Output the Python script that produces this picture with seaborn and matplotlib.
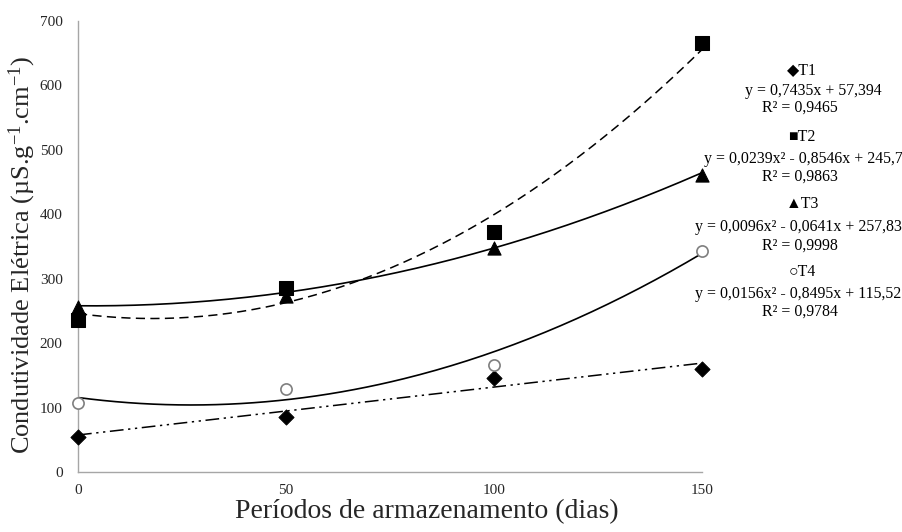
import numpy as np
import pandas as pd
import matplotlib.pyplot as plt
import seaborn as sns

# dados
periodos = [0, 50, 100, 150]
t1 = [54, 85, 146, 159]
t2 = [235, 285, 372, 665]
t3 = [256, 273, 347, 460]
t4 = [107, 128, 166, 343]

# coeficientes das linhas de tendência impressos no gráfico
coef_t1 = [0.7435, 57.394]
coef_t2 = [0.0239, -0.8546, 245.7]
coef_t3 = [0.0096, -0.0641, 257.83]
coef_t4 = [0.0156, -0.8495, 115.52]

nomes = ["\u25c6T1", "\u25a0T2", "\u25b2T3", "\u25cbT4"]
equacoes = ["y = 0,7435x + 57,394",
            "y = 0,0239x\u00b2 - 0,8546x + 245,7",
            "y = 0,0096x\u00b2 - 0,0641x + 257,83",
            "y = 0,0156x\u00b2 - 0,8495x + 115,52"]
r2 = ["R\u00b2 = 0,9465", "R\u00b2 = 0,9863", "R\u00b2 = 0,9998", "R\u00b2 = 0,9784"]

sns.set_theme(style="white")
plt.rcParams['font.family'] = ['Liberation Serif', 'DejaVu Sans']
plt.rcParams['mathtext.fontset'] = 'custom'
plt.rcParams['mathtext.rm'] = 'Liberation Serif'
plt.rcParams['mathtext.it'] = 'Liberation Serif:italic'

fig = plt.figure(figsize=(9.02, 5.32), dpi=100)
ax = fig.add_axes([78 / 902, 1 - 472 / 532, (702 - 78) / 902, (472 - 20.7) / 532])

df = pd.DataFrame({'x': periodos, 'T1': t1, 'T2': t2, 'T3': t3, 'T4': t4})
xs = np.linspace(0, 150, 200)

# linhas de tendência
sns.lineplot(x=xs, y=np.polyval(coef_t1, xs), ax=ax, color='black', lw=1.1)
ax.lines[-1].set_dashes([9, 3, 1.5, 3, 1.5, 3])
sns.lineplot(x=xs, y=np.polyval(coef_t2, xs), ax=ax, color='black', lw=1.1)
ax.lines[-1].set_dashes([6, 3.5])
sns.lineplot(x=xs, y=np.polyval(coef_t3, xs), ax=ax, color='black', lw=1.2)
sns.lineplot(x=xs, y=np.polyval(coef_t4, xs), ax=ax, color='black', lw=1.2)

# pontos
sns.scatterplot(data=df, x='x', y='T1', ax=ax, marker='D', s=60, color='black',
                edgecolor='black', zorder=5, clip_on=False)
sns.scatterplot(data=df, x='x', y='T2', ax=ax, marker='s', s=90, color='black',
                edgecolor='black', zorder=5, clip_on=False)
sns.scatterplot(data=df, x='x', y='T3', ax=ax, marker='^', s=90, color='black',
                edgecolor='black', zorder=5, clip_on=False)
sns.scatterplot(data=df, x='x', y='T4', ax=ax, marker='o', s=65, color='white',
                edgecolor='#7f7f7f', linewidth=1.2, zorder=5, clip_on=False)

ax.set_xlim(0, 150)
ax.set_ylim(0, 700)
ax.set_xticks([0, 50, 100, 150])
ax.set_yticks(range(0, 701, 100))
ax.tick_params(axis='both', length=0, labelsize=11, colors='#262626')
ax.tick_params(axis='y', pad=11)
ax.tick_params(axis='x', pad=9)
for s in ['top', 'right']:
    ax.spines[s].set_visible(False)
for s in ['left', 'bottom']:
    ax.spines[s].set_color('#a6a6a6')
    ax.spines[s].set_linewidth(1.0)

ax.set_xlabel('Períodos de armazenamento (dias)', fontsize=20, color='#262626')
ax.set_ylabel(r'Condutividade Elétrica (µS.g$^{\mathregular{-1}}$.cm$^{\mathregular{-1}}$)',
              fontsize=19, color='#262626')
ax.xaxis.set_label_coords((427 - 78) / 624, (472 - 512) / 451.3)
ax.yaxis.set_label_coords((22 - 78) / 624, (472 - 255) / 451.3)
ax.xaxis.label.set_va('center')
ax.yaxis.label.set_va('center')

# rótulos das séries (à direita)
pos_nome = [70, 137, 204, 272]
pos_eq = [91, 159, 227, 294]
pos_r2 = [108, 177, 246, 312]
cx_eq = [813, 803, 798, 798]
for i in range(4):
    fig.text(802 / 902, 1 - pos_nome[i] / 532, nomes[i], ha='center', va='center',
             fontsize=11.4, color='black')
    fig.text(cx_eq[i] / 902, 1 - pos_eq[i] / 532, equacoes[i], ha='center', va='center',
             fontsize=11.4, color='black')
    fig.text(800 / 902, 1 - pos_r2[i] / 532, r2[i], ha='center', va='center',
             fontsize=11.4, color='black')

fig.savefig('out.png', dpi=100)
